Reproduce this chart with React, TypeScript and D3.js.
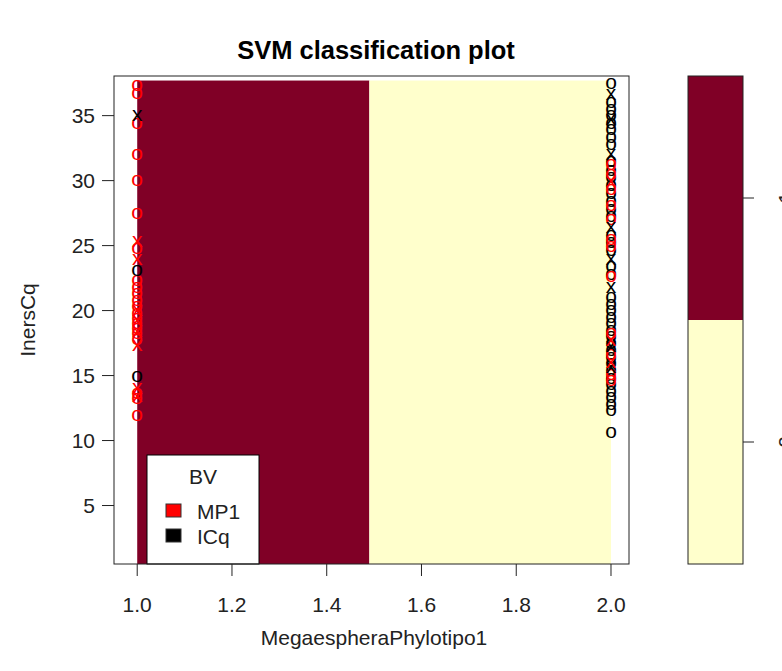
import React from 'react';
import * as d3 from 'd3';

const W = 782;
const H = 671;

const xTicks = [1.0, 1.2, 1.4, 1.6, 1.8, 2.0];
const yTicks = [5, 10, 15, 20, 25, 30, 35];

// class levels of the svm key, bottom to top
const classLevels = ['0', '1'];
const levelColors = ['#FFFFCC', '#800026'];

// predicted regions along MegaespheraPhylotipo1
const regionBreaks = [1.0, 1.49, 2.0];
const regionLevel = [1, 0];
const gridY = [0.5, 37.7];

// InersCq values, grouped by x value and class (o = data, x = support vector)
const mp1AtOne = [37.3, 36.7, 34.4, 32.0, 30.0, 27.5, 24.8, 22.3, 21.8, 21.3, 20.8, 20.3, 19.8, 19.4, 19.0, 18.6, 18.2, 17.8, 13.6, 13.2, 11.9];
const mp1SvAtOne = [25.3, 23.9, 20.0, 19.2, 18.4, 17.3, 14.0, 13.4];
const icqAtOne = [23.1, 14.9];
const icqSvAtOne = [35.0];

const icqAtTwo = [37.5, 36.0, 35.5, 35.0, 34.4, 33.9, 33.3, 32.8, 31.5, 30.8, 30.2, 29.6, 29.0, 28.4, 27.8, 27.2, 25.8, 25.2, 24.6, 23.4, 22.8, 21.0, 20.5, 20.0, 19.5, 19.0, 18.5, 18.0, 17.5, 16.9, 16.4, 15.9, 15.4, 14.8, 14.3, 13.8, 13.3, 12.8, 12.3, 10.6];
const icqSvAtTwo = [36.6, 34.7, 32.0, 26.4, 23.9, 21.8, 17.2, 15.6];
const mp1AtTwo = [31.2, 30.5, 29.3, 28.1, 27.0, 25.5, 24.9, 22.6, 18.2, 16.6, 15.1, 14.6];
const mp1SvAtTwo = [29.9, 17.7, 16.0];

const legendTitle = 'BV';
const legendLabels = ['MP1', 'ICq'];
const legendColors = ['red', 'black'];

const font = '"Liberation Sans", Arial, sans-serif';
const fs = 21;

export default function App() {
  const x = d3.scaleLinear().domain([0.951, 2.038]).range([114, 629]);
  const y = d3.scaleLinear().domain([0.5, 38.05]).range([564, 76]);
  const key = d3.scaleLinear().domain([1, 3]).range([564, 76]);

  const sym = (vals: number[], xv: number, ch: string, col: string, k: string) =>
    vals.map((v, i) => (
      <text key={k + i} x={x(xv)} y={y(v) + 0.26 * fs} textAnchor="middle"
        fontSize={fs} fill={col}>{ch}</text>
    ));

  return (
    <div style={{ position: 'absolute', left: 0, top: 0 }}>
      <svg width={W} height={H} style={{ display: 'block', background: '#fff' }} fontFamily={font}>
        <text x={376} y={59} textAnchor="middle" fontSize={25.5} fontWeight="bold">SVM classification plot</text>

        {/* decision regions */}
        {regionLevel.map((lv, i) => (
          <rect key={i} x={x(regionBreaks[i])} y={y(gridY[1])}
            width={x(regionBreaks[i + 1]) - x(regionBreaks[i])}
            height={y(gridY[0]) - y(gridY[1])} fill={levelColors[lv]} />
        ))}

        {sym(mp1AtOne, 1, 'o', 'red', 'a')}
        {sym(icqAtOne, 1, 'o', 'black', 'b')}
        {sym(icqAtTwo, 2, 'o', 'black', 'c')}
        {sym(mp1AtTwo, 2, 'o', 'red', 'd')}
        {sym(mp1SvAtOne, 1, 'x', 'red', 'e')}
        {sym(icqSvAtOne, 1, 'x', 'black', 'f')}
        {sym(icqSvAtTwo, 2, 'x', 'black', 'g')}
        {sym(mp1SvAtTwo, 2, 'x', 'red', 'h')}

        {/* legend */}
        <rect x={147} y={455} width={112} height={109} fill="#fff" stroke="#000" />
        <text x={203} y={484} textAnchor="middle" fontSize={fs} fill="#222">{legendTitle}</text>
        {legendLabels.map((l, i) => (
          <g key={l}>
            <rect x={166} y={504 + i * 25} width={15} height={13} fill={legendColors[i]} stroke="#333" />
            <text x={197} y={519 + i * 25} fontSize={fs} fill="#222">{l}</text>
          </g>
        ))}

        {/* frame and axes */}
        <rect x={114} y={76} width={515} height={488} fill="none" stroke="#222" />
        {xTicks.map(t => (
          <g key={t}>
            <line x1={x(t)} x2={x(t)} y1={564} y2={576} stroke="#222" />
            <text x={x(t)} y={612} textAnchor="middle" fontSize={fs} fill="#222">{t.toFixed(1)}</text>
          </g>
        ))}
        {yTicks.map(t => (
          <g key={t}>
            <line x1={102} x2={114} y1={y(t)} y2={y(t)} stroke="#222" />
            <text x={95} y={y(t) + 7.5} textAnchor="end" fontSize={fs} fill="#222">{t}</text>
          </g>
        ))}
        <text x={374} y={645} textAnchor="middle" fontSize={fs} fill="#222">MegaespheraPhylotipo1</text>
        <text transform={`translate(35,${320}) rotate(-90)`} textAnchor="middle" fontSize={fs} fill="#222">InersCq</text>

        {/* key */}
        {classLevels.map((l, i) => (
          <g key={l}>
            <rect x={688} y={key(i + 2)} width={55} height={key(i + 1) - key(i + 2)} fill={levelColors[i]} />
            <line x1={743} x2={754} y1={key(i + 1.5)} y2={key(i + 1.5)} stroke="#222" />
            <text transform={`translate(793,${key(i + 1.5)}) rotate(-90)`} textAnchor="middle" fontSize={fs} fill="#222">{l}</text>
          </g>
        ))}
        <rect x={688} y={76} width={55} height={488} fill="none" stroke="#222" />
      </svg>
    </div>
  );
}
